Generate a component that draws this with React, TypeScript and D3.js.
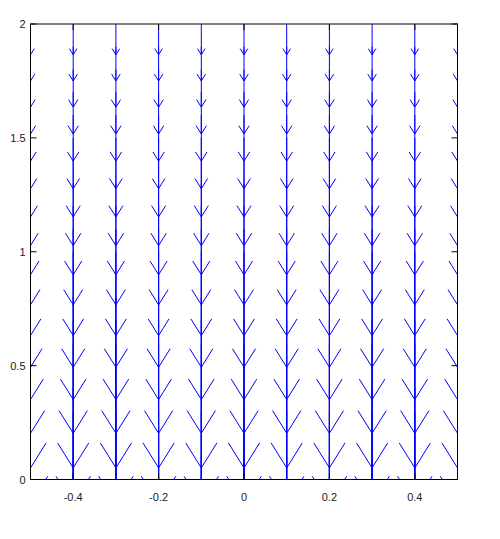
import React from "react";
import * as d3 from "d3";

// Grid of the quiver plot
const xGrid = [-0.5, -0.4, -0.3, -0.2, -0.1, 0, 0.1, 0.2, 0.3, 0.4, 0.5];
const yGrid = [0, 0.1, 0.2, 0.3, 0.4, 0.5, 0.6, 0.7, 0.8, 0.9, 1.0, 1.1, 1.2, 1.3, 1.4, 1.5, 1.6, 1.7, 1.8, 1.9, 2.0];
// Vertical velocity component at each grid row (u = 0 everywhere)
const vValues = [-1.0, -0.905, -0.819, -0.741, -0.67, -0.607, -0.549, -0.497, -0.449, -0.407, -0.368, -0.333, -0.301, -0.273, -0.247, -0.223, -0.202, -0.183, -0.165, -0.15, -0.135];
const uValue = 0;

const xTicks = [-0.4, -0.2, 0, 0.2, 0.4];
const xTickLabels = ["-0.4", "-0.2", "0", "0.2", "0.4"];
const yTicks = [0, 0.5, 1, 1.5, 2];
const yTickLabels = ["0", "0.5", "1", "1.5", "2"];

const W = 500;
const H = 539;
const left = 30.5;
const right = 457.5;
const top = 24;
const bottom = 479.5;
const headSize = 0.2;

export default function App() {
  const x = d3.scaleLinear().domain([-0.5, 0.5]).range([left, right]);
  const y = d3.scaleLinear().domain([0, 2]).range([bottom, top]);
  const line = d3.line<[number, number]>().x((d) => x(d[0])).y((d) => y(d[1]));

  const shafts: string[] = [];
  const heads: string[] = [];
  xGrid.forEach((gx) => {
    yGrid.forEach((gy, i) => {
      const u = uValue;
      const v = vValues[i];
      const xe = gx + u;
      const ye = gy + v;
      shafts.push(line([[gx, gy], [xe, ye]]) as string);
      const xt = gx + u * (1 - headSize);
      const yt = gy + v * (1 - headSize);
      const xa1 = xt + (gy - ye) * headSize / 3;
      const xa2 = xt - (gy - ye) * headSize / 3;
      const ya1 = yt - (gx - xe) * headSize / 3;
      const ya2 = yt + (gx - xe) * headSize / 3;
      heads.push(line([[xa1, ya1], [xe, ye], [xa2, ya2]]) as string);
    });
  });

  const font = "'Liberation Sans', Arial, Helvetica, sans-serif";
  const tickLen = 6;

  return (
    <svg
      width={W}
      height={H}
      style={{ position: "fixed", left: 0, top: 0, background: "#fff" }}
    >
      <defs>
        <clipPath id="plotClip">
          <rect x={left} y={top} width={right - left} height={bottom - top} />
        </clipPath>
      </defs>
      <rect x={0} y={0} width={W} height={H} fill="#fff" />
      <g clipPath="url(#plotClip)" fill="none" stroke="#0000ff" strokeWidth={1}>
        {shafts.map((d, i) => (
          <path key={"s" + i} d={d} />
        ))}
        {heads.map((d, i) => (
          <path key={"h" + i} d={d} />
        ))}
      </g>
      <g stroke="#000" strokeWidth={1} fill="none">
        <rect x={left} y={top} width={right - left} height={bottom - top} />
        {xTicks.map((t, i) => (
          <g key={"xt" + i}>
            <line x1={x(t)} x2={x(t)} y1={bottom} y2={bottom - tickLen} />
            <line x1={x(t)} x2={x(t)} y1={top} y2={top + tickLen} />
          </g>
        ))}
        {yTicks.map((t, i) => (
          <g key={"yt" + i}>
            <line x1={left} x2={left + tickLen} y1={y(t)} y2={y(t)} />
            <line x1={right} x2={right - tickLen} y1={y(t)} y2={y(t)} />
          </g>
        ))}
      </g>
      <g fontFamily={font} fontSize={11} fill="#222">
        {xTicks.map((t, i) => (
          <text key={"xl" + i} x={x(t)} y={bottom + 21} textAnchor="middle">
            {xTickLabels[i]}
          </text>
        ))}
        {yTicks.map((t, i) => (
          <text key={"yl" + i} x={left - 5} y={y(t)} textAnchor="end" dominantBaseline="central">
            {yTickLabels[i]}
          </text>
        ))}
      </g>
    </svg>
  );
}
